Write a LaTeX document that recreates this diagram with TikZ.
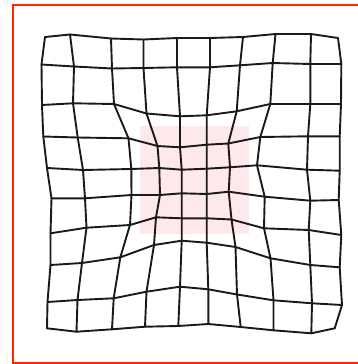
\documentclass[tikz,border=0pt]{standalone}
\definecolor{cframe}{RGB}{255,38,0}
\definecolor{cpatch}{RGB}{253,232,235}
\definecolor{cmesh}{HTML}{1A1A1A}
\tikzset{
  mesh/.style={draw=cmesh, line width=1.9pt, line join=round, line cap=round},
  frame/.style={draw=cframe, line width=2.2pt},
  patch/.style={fill=cpatch},
}
\begin{document}
\begin{tikzpicture}[x=1pt, y=-1pt]
  \useasboundingbox (0,0) rectangle (358,364);
  \clip (0,0) rectangle (358,364);
  \draw[frame] (13,5) rectangle (362,363);
  \fill[patch] (140,126) rectangle (248.7,234.3);
  % mesh vertices, one list per row
  \foreach \row [count=\r from 0] in {
    {45/37, 70/34.5, 111/38.5, 143.5/39.5, 177/38, 210/38, 243/37, 275.5/34, 311/34, 338/38},
    {41.5/64.5, 74/66.5, 112/68.5, 143.5/68, 177/67.3, 210/67.3, 240/65.3, 272.7/63, 310.3/64, 341.3/64},
    {42/105, 73/103.3, 114/104, 146.5/113.5, 180/116.3, 206.7/115.3, 236.7/111.3, 270.3/104, 310.3/104, 341/104},
    {43.3/136.5, 77.7/137.5, 128.5/138.3, 157.5/146, 180/147.3, 206.7/144.7, 228.3/143.5, 260.3/137, 308/136.3, 339.7/136.3},
    {47/168, 83/170, 131.3/169, 159.3/168, 181.7/169.7, 206.7/168.7, 230/167.3, 257/165.3, 307/169.7, 339.7/170.7},
    {51.5/198.3, 85/198.3, 131.5/195, 160/195, 181.7/193.3, 206.7/194, 228.7/191.7, 264.7/196.7, 310.3/200.7, 338.7/200},
    {50.5/233.3, 86.5/227.7, 130/225, 156/217.3, 181.7/218.3, 206.7/218.3, 231.5/219.5, 264/228.3, 308.7/230, 341.3/235},
    {50.5/265, 82/263, 120.3/257.3, 154/245, 181.7/240.7, 206.7/242.7, 235.5/247, 270.5/258.3, 310.3/265, 339.7/267.3},
    {47.5/302, 77.5/300, 113.7/298.3, 146.5/291.7, 180/286.7, 208.3/289.3, 237/294.5, 273.5/300.3, 312/303.3, 342/305},
    {47/328.3, 76.5/331.7, 112/329.3, 145/326.7, 178.3/326, 208.3/324, 240.7/327, 273.5/330.3, 311.3/333.3, 334.7/328.3}} {
    \foreach \px/\py [count=\c from 0] in \row
      \coordinate (v\r-\c) at (\px,\py);
  }
  % rows and columns of the mesh
  \foreach \r in {0,...,9}
    \draw[mesh] (v\r-0) \foreach \c in {1,...,9} {-- (v\r-\c)};
  \foreach \c in {0,...,9}
    \draw[mesh] (v0-\c) \foreach \r in {1,...,9} {-- (v\r-\c)};
\end{tikzpicture}
\end{document}
